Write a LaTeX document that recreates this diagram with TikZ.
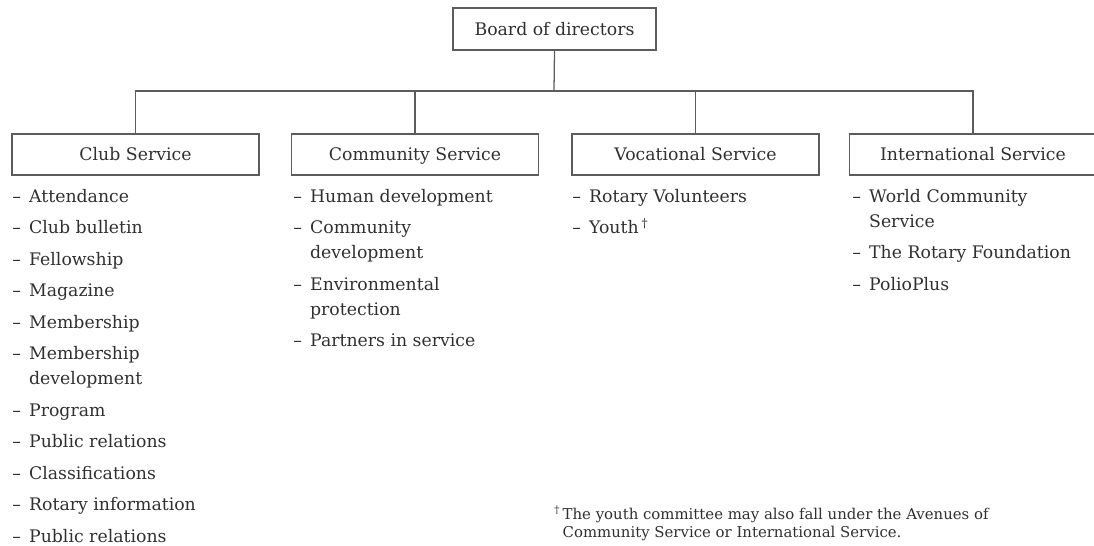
\documentclass[tikz,border=0pt]{standalone}
\usepackage{fontspec}
\setmainfont{DejaVu Serif}
\usepackage{tikz}
\definecolor{inkgray}{HTML}{303030}
\definecolor{linegray}{HTML}{5C5C5C}
\newcommand{\itm}{\makebox[12pt][l]{--}}
\newcommand{\cont}{\hspace*{12pt}}
\newcommand{\gap}{\\[4.6pt]}

\begin{document}
\begin{tikzpicture}[x=0.025cm, y=-0.025cm,
    dept/.style={draw=linegray, line width=0.9pt, minimum width=6.175cm,
        minimum height=1.025cm, inner sep=0pt, text=inkgray,
        text height=10pt, text depth=1pt,
        font=\fontsize{12.3}{14}\selectfont},
    itemlist/.style={anchor=north west, align=left, inner sep=0pt,
        text=inkgray, font=\fontsize{12.3}{17.8}\selectfont},
    link/.style={draw=linegray, line width=0.9pt}]
    \useasboundingbox (0,0) rectangle (1094,546);

    % Board
    \node[dept, minimum width=5.075cm, minimum height=1.05cm] (board) at (554.5,29) {Board of directors};

    % Avenues of service
    \node[dept] (club) at (135.5,154.5) {Club Service};
    \node[dept] (community) at (415,154.5) {Community Service};
    \node[dept] (vocational) at (695.5,154.5) {Vocational Service};
    \node[dept] (international) at (973,154.5) {International Service};

    % Connectors
    \coordinate (bus) at (554,91);
    \draw[link] (board.south) -- (bus);
    \foreach \n in {club,community,vocational,international}
        \draw[link] (\n.north) |- (bus);

    % Committees
    \node[itemlist] (clublist) at (12,189) {%
        \itm Attendance\gap
        \itm Club bulletin\gap
        \itm Fellowship\gap
        \itm Magazine\gap
        \itm Membership\gap
        \itm Membership\\ \cont development\gap
        \itm Program\gap
        \itm Public relations\gap
        \itm Classifications\gap
        \itm Rotary information\gap
        \itm Public relations};
    \node[itemlist] (communitylist) at (293,189) {%
        \itm Human development\gap
        \itm Community\\ \cont development\gap
        \itm Environmental\\ \cont protection\gap
        \itm Partners in service};
    \node[itemlist] (vocationallist) at (572,189) {%
        \itm Rotary Volunteers\gap
        \itm Youth\,\textsuperscript{†}};
    \node[itemlist] (internationallist) at (852,189) {%
        \itm World Community\\ \cont Service\gap
        \itm The Rotary Foundation\gap
        \itm PolioPlus};

    % Footnote
    \node[anchor=north west, align=left, inner sep=0pt, text=inkgray,
        font=\fontsize{10.6}{12.8}\selectfont] (note) at (554,506) {%
        \textsuperscript{†}\,The youth committee may also fall under the Avenues of\\
        \phantom{\textsuperscript{†}\,}Community Service or International Service.};
\end{tikzpicture}
\end{document}
